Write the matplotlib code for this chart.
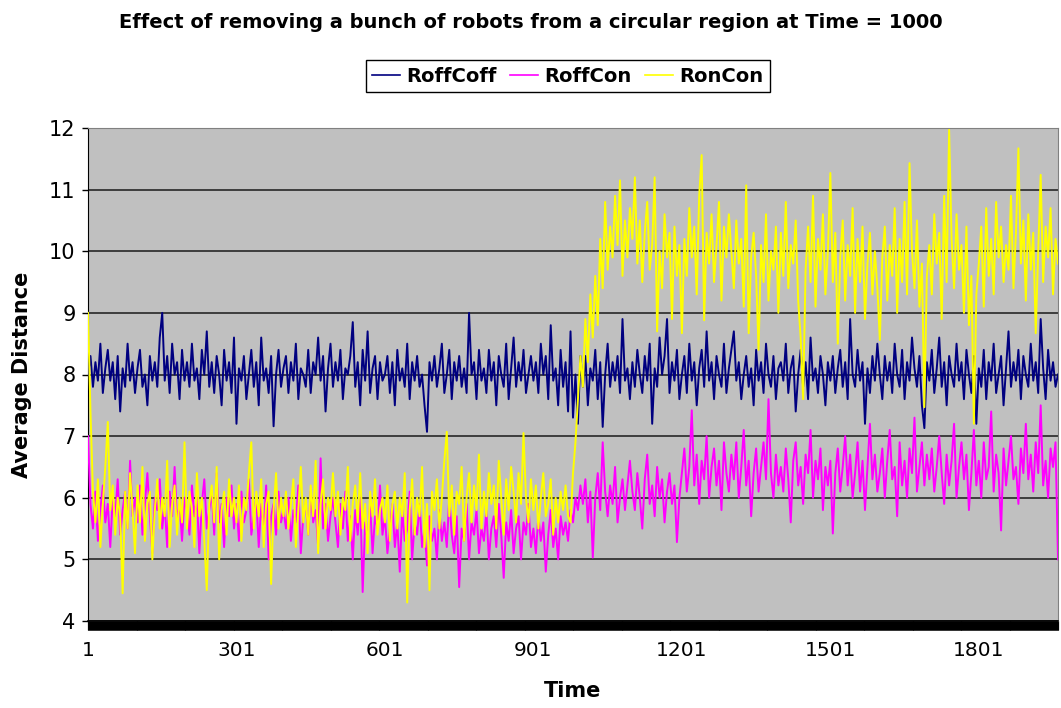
import numpy as np
import matplotlib
matplotlib.use("Agg")
import matplotlib.pyplot as plt

plt.rcParams['font.family'] = ['DejaVu Sans']

# Sampled every 5 time steps, starting at Time = 1
time_start = 1
time_step = 5

roff_coff = [
    8.0, 8.3, 7.8, 8.2, 7.9, 8.5, 7.7, 8.1, 8.4, 7.9, 8.2, 7.6, 8.3, 7.4, 8.1, 7.8, 8.5, 7.9, 8.2, 7.7,
    8.1, 8.4, 7.8, 8.0, 7.5, 8.3, 7.9, 8.2, 7.8, 8.6, 9.0, 7.9, 8.3, 7.7, 8.5, 8.0, 8.2, 7.6, 8.4, 7.9,
    8.2, 7.8, 8.5, 7.9, 8.1, 7.6, 8.4, 8.0, 8.7, 7.8, 8.2, 7.7, 8.3, 8.0, 7.5, 8.4, 7.9, 8.2, 7.7, 8.6,
    7.2, 8.1, 7.9, 8.3, 7.6, 8.0, 8.4, 7.8, 8.2, 7.5, 8.6, 7.9, 8.1, 7.7, 8.3, 7.16, 8.0, 8.4, 7.8, 8.1,
    8.3, 7.7, 8.2, 7.9, 8.5, 7.6, 8.1, 8.0, 7.8, 8.4, 7.7, 8.2, 8.0, 8.6, 7.9, 8.3, 7.4, 8.1, 8.5, 7.8,
    8.2, 7.9, 8.4, 7.6, 8.1, 8.0, 8.3, 8.85, 7.8, 8.2, 7.5, 8.4, 7.9, 8.7, 7.7, 8.1, 8.3, 7.6, 8.2, 7.9,
    8.0, 8.3, 7.7, 8.2, 7.5, 8.4, 7.9, 8.1, 7.8, 8.5, 7.6, 8.2, 7.9, 8.3, 7.8, 8.0, 7.5, 7.07, 8.2, 7.9,
    8.3, 7.8, 8.1, 8.5, 7.7, 8.0, 8.4, 7.6, 8.2, 7.9, 8.3, 7.8, 8.1, 7.7, 9.0, 8.0, 8.2, 7.6, 8.4, 7.9,
    8.1, 7.7, 8.4, 7.9, 8.2, 7.5, 8.3, 8.0, 7.8, 8.5, 7.6, 8.1, 8.6, 7.8, 8.2, 7.9, 8.4, 7.7, 8.0, 8.3,
    7.9, 8.2, 7.7, 8.5, 8.0, 8.3, 7.6, 8.8, 7.9, 8.1, 7.5, 8.4, 7.8, 8.2, 7.4, 8.7, 7.3, 8.0, 7.2, 8.3,
    7.8, 8.3, 7.5, 8.1, 7.9, 8.4, 7.6, 8.2, 7.15, 8.0, 8.5, 7.8, 8.2, 7.9, 8.3, 7.7, 8.9, 7.9, 8.1, 7.6,
    8.2, 7.8, 8.4, 8.0, 7.7, 8.3, 7.9, 8.5, 7.2, 8.1, 7.8, 8.6, 8.0, 8.3, 8.9, 7.7, 8.2, 7.9, 8.4, 7.6,
    8.0, 8.3, 7.7, 8.5, 7.9, 8.2, 7.5, 8.1, 8.4, 7.8, 8.7, 7.9, 8.2, 7.6, 8.3, 8.0, 7.8, 8.5, 7.7, 8.1,
    8.4, 8.7, 7.9, 8.2, 7.6, 8.0, 8.3, 7.8, 8.1, 7.5, 8.4, 7.9, 8.2, 7.7, 8.5, 8.0, 7.8, 8.3, 7.6, 8.1,
    8.2, 7.9, 8.5, 7.7, 8.1, 8.3, 7.4, 8.0, 8.4, 7.8, 8.2, 7.6, 8.6, 7.9, 8.1, 7.7, 8.3, 8.0, 7.5, 8.2,
    7.9, 8.3, 7.7, 8.1, 8.4, 7.8, 8.2, 7.6, 8.9, 8.0, 7.8, 8.4, 7.9, 8.2, 7.2, 8.1, 7.7, 8.3, 7.9, 8.5,
    8.0, 7.6, 8.3, 7.9, 8.2, 7.7, 8.5, 8.0, 7.8, 8.4, 7.6, 8.2, 7.9, 8.6, 8.1, 7.8, 8.3, 7.5, 7.13, 8.2,
    7.9, 8.4, 7.7, 8.1, 8.6, 7.8, 8.2, 7.5, 8.3, 8.0, 7.8, 8.5, 7.9, 8.2, 7.6, 8.4, 8.0, 7.7, 8.3, 7.2,
    8.1, 7.8, 8.4, 7.6, 8.2, 7.9, 8.5, 7.7, 8.0, 8.3, 7.5, 8.1, 8.7, 7.8, 8.2, 7.9, 8.4, 7.6, 8.3, 8.0,
    7.8, 8.5, 7.9, 8.2, 7.7, 8.9, 8.1, 7.6, 8.4, 7.9, 8.2, 7.8, 8.0,
]

roff_con = [
    7.0, 5.9, 5.5, 6.1, 5.3, 5.8, 6.2, 5.6, 5.9, 5.2, 6.0, 5.7, 6.3, 5.4, 5.8, 6.1, 5.5, 6.6, 5.7, 6.0,
    5.6, 6.2, 5.4, 5.9, 6.4, 5.7, 5.1, 6.0, 5.8, 6.3, 5.5, 5.9, 5.2, 6.1, 5.7, 6.5, 5.6, 5.9, 5.3, 6.0,
    5.8, 5.4, 6.2, 5.7, 6.0, 5.1, 5.9, 6.3, 5.5, 5.8, 6.1, 5.4, 6.4, 5.6, 5.9, 5.2, 6.0, 5.7, 6.2, 5.5,
    5.9, 5.3, 6.1, 5.6, 5.8, 6.3, 5.4, 5.7, 6.0, 5.2, 5.9, 5.5, 6.2, 5.0, 5.7, 5.9, 5.4, 6.1, 5.6, 5.8,
    5.5, 6.0, 5.3, 5.8, 5.6, 6.2, 5.1, 5.7, 5.9, 5.4, 6.1, 5.6, 5.8, 5.2, 6.64, 5.5, 5.9, 5.3, 5.7, 6.0,
    5.6, 5.2, 5.9, 5.5, 6.1, 5.3, 5.7, 5.0, 5.8, 5.4, 6.0, 4.47, 5.6, 5.3, 5.9, 5.1, 5.7, 5.5, 6.2, 5.4,
    5.7, 5.1, 5.5, 5.9, 5.2, 5.6, 4.8, 5.8, 5.3, 5.5, 6.1, 5.0, 5.6, 5.4, 5.9, 5.2, 5.5, 4.9, 5.7, 5.3,
    5.5, 5.0, 5.8, 5.3, 5.6, 5.2, 6.0, 5.4, 5.1, 5.7, 4.55, 5.5, 5.3, 5.9, 5.0, 5.6, 5.4, 5.8, 5.1, 5.5,
    5.3, 5.8, 5.0, 5.5, 5.7, 5.2, 5.9, 5.4, 4.7, 5.6, 5.3, 5.8, 5.1, 5.5, 5.7, 5.0, 5.6, 5.4, 5.9, 5.2,
    5.5, 5.1, 5.7, 5.3, 5.6, 4.8, 5.4, 5.8, 5.2, 5.5, 5.0, 5.7, 5.4, 5.6, 5.3, 5.8, 5.6, 6.0, 5.8, 6.2,
    5.9, 6.3, 5.6, 6.1, 5.03, 6.0, 6.4, 5.8, 6.9, 6.1, 5.7, 6.2, 5.9, 6.5, 5.6, 6.0, 6.3, 5.8, 6.2, 6.6,
    6.1, 5.8, 6.4, 6.0, 5.5, 6.3, 6.7, 5.9, 6.2, 5.7, 6.5, 6.0, 6.3, 5.6, 6.1, 6.4, 5.9, 6.2, 5.28, 6.0,
    6.4, 6.8, 6.1, 6.5, 7.42, 6.2, 6.7, 5.9, 6.6, 6.3, 7.0, 6.0, 6.5, 6.8, 6.2, 6.6, 5.8, 6.9, 6.4, 6.1,
    6.7, 6.3, 6.9, 6.0, 6.5, 7.1, 6.2, 6.6, 5.7, 6.4, 6.8, 6.1, 6.5, 6.9, 6.3, 7.6, 6.4, 6.0, 6.7, 6.2,
    6.5, 6.1, 6.8, 6.3, 5.6, 6.6, 6.9, 6.2, 6.5, 5.9, 6.7, 6.4, 7.1, 6.0, 6.6, 6.3, 6.8, 5.8, 6.5, 6.2,
    6.6, 5.42, 6.4, 6.8, 6.1, 6.5, 7.0, 6.2, 6.7, 6.0, 6.4, 6.9, 6.1, 6.6, 5.8, 6.5, 7.2, 6.3, 6.7, 6.1,
    6.4, 6.8, 6.0, 6.6, 7.1, 6.3, 6.5, 5.7, 6.9, 6.2, 6.6, 6.0, 6.8, 6.4, 7.3, 6.1, 6.5, 6.9, 6.2, 6.7,
    6.3, 6.8, 6.1, 6.5, 7.0, 6.4, 5.9, 6.7, 6.2, 6.6, 7.2, 6.0, 6.5, 6.9, 6.3, 6.7, 5.8, 6.4, 7.1, 6.2,
    6.6, 6.0, 6.9, 6.3, 6.5, 7.4, 6.1, 6.7, 6.4, 5.47, 6.8, 6.2, 6.6, 7.0, 6.3, 6.5, 5.9, 6.8, 6.4, 7.2,
    6.3, 6.7, 6.1, 6.9, 6.4, 7.5, 6.2, 6.6, 6.0, 6.8, 6.5, 6.9, 5.0,
]

ron_con = [
    9.0, 7.4, 6.1, 5.6, 6.3, 5.2, 5.9, 6.5, 7.23, 5.8, 6.2, 5.4, 6.0, 5.7, 4.45, 6.1, 5.5, 6.4, 5.8, 5.1,
    6.2, 5.6, 6.5, 5.3, 5.9, 6.1, 5.0, 5.8, 6.3, 5.5, 6.0, 5.7, 6.6, 5.2, 5.9, 6.2, 5.4, 6.0, 5.6, 6.9,
    5.5, 6.1, 5.8, 5.2, 6.4, 5.7, 6.0, 5.3, 4.5, 5.9, 6.2, 5.6, 6.5, 5.0, 5.8, 6.1, 5.4, 6.3, 5.7, 6.0,
    5.6, 6.2, 5.3, 6.0, 5.8, 6.4, 6.9, 5.5, 6.1, 5.7, 6.3, 5.2, 5.9, 6.1, 4.6, 5.8, 6.4, 5.5, 6.0, 5.7,
    6.1, 5.5, 5.9, 6.3, 5.2, 5.8, 6.5, 5.6, 6.0, 5.4, 6.2, 5.7, 6.6, 5.1, 5.9, 6.3, 5.5, 6.0, 5.8, 6.4,
    5.7, 6.1, 5.4, 6.0, 5.8, 6.5, 5.3, 5.9, 6.2, 5.6, 6.4, 5.5, 5.9, 5.1, 6.1, 5.7, 6.3, 5.4, 5.8, 6.0,
    5.6, 6.2, 5.3, 5.9, 6.1, 5.5, 6.0, 5.7, 6.4, 4.3, 5.8, 6.3, 5.4, 6.0, 5.7, 6.5, 5.2, 5.9, 4.5, 6.1,
    5.8, 6.3, 5.5, 6.0, 6.6, 7.07, 5.7, 6.2, 5.4, 6.1, 5.9, 6.5, 5.3, 6.0, 6.4, 5.6, 6.2, 5.8, 6.7, 5.5,
    6.1, 5.7, 6.4, 5.9, 6.2, 5.5, 6.6, 6.0, 5.4, 6.3, 5.8, 6.5, 6.1, 5.6, 6.4, 5.9, 7.05, 6.0, 5.6, 6.3,
    5.8, 6.2, 5.5, 6.0, 6.4, 5.7, 5.9, 6.3, 5.4, 6.0, 5.6, 6.1, 5.8, 6.2, 5.7, 5.6, 6.4, 6.9, 7.6, 8.3,
    7.8, 8.9, 8.2, 9.3, 8.6, 9.6, 8.8, 10.2, 9.4, 10.8, 9.7, 10.4, 9.9, 10.9, 10.1, 11.15, 9.6, 10.5, 9.9, 10.7,
    10.2, 11.2, 9.8, 10.5, 9.5, 10.3, 10.8, 9.7, 10.1, 11.2, 8.7, 10.0, 9.4, 10.6, 9.9, 10.3, 8.9, 10.4, 9.6, 10.1,
    8.67, 10.2, 9.6, 10.7, 9.9, 10.4, 9.3, 10.9, 11.56, 8.88, 10.3, 9.8, 10.6, 9.5, 10.1, 10.8, 9.2, 10.4, 9.9, 10.6,
    10.0, 9.4, 10.5, 9.8, 10.2, 9.1, 11.07, 8.67, 9.9, 10.3, 9.6, 8.4, 10.1, 9.5, 10.6, 9.2, 10.0, 9.7, 10.4, 9.0,
    10.3, 9.6, 10.8, 9.4, 10.1, 9.8, 10.5, 9.2, 8.6, 7.6, 9.7, 10.4, 9.5, 10.9, 9.1, 10.2, 9.7, 10.6, 9.3, 10.0,
    11.27, 9.5, 10.3, 8.5, 9.9, 10.5, 9.2, 10.1, 9.6, 10.7, 9.0, 10.2, 9.5, 10.4, 8.9, 9.8, 10.3, 9.3, 10.0, 9.4,
    8.56, 9.9, 10.4, 9.2, 10.1, 9.6, 10.7, 9.0, 10.2, 9.5, 10.8, 9.3, 11.43, 10.0, 9.4, 10.5, 9.1, 9.8, 7.47, 9.6,
    10.1, 9.3, 10.6, 9.8, 10.3, 8.9, 10.9, 9.5, 11.97, 10.2, 9.4, 10.6, 9.7, 10.1, 9.0, 10.4, 8.8, 9.6, 7.2, 9.3,
    9.8, 10.4, 9.1, 10.7, 9.6, 10.2, 9.3, 10.8, 9.9, 10.4, 9.5, 10.1, 9.7, 10.9, 9.4, 10.3, 11.67, 9.8, 10.5, 9.2,
    10.6, 9.7, 10.3, 8.67, 10.0, 11.24, 9.5, 10.4, 9.9, 10.7, 9.3, 10.2, 9.8,
]

series_names = ["RoffCoff", "RoffCon", "RonCon"]
series_colors = ["#000080", "#FF00FF", "#FFFF00"]
x_tick_values = [1, 301, 601, 901, 1201, 1501, 1801]
y_tick_values = [4, 5, 6, 7, 8, 9, 10, 11, 12]

fig = plt.figure(figsize=(10.61, 7.08), dpi=100)
ax = fig.add_axes([88 / 1061, 87 / 708, 970 / 1061, 493 / 708])
ax.set_facecolor("#C0C0C0")

for values, name, color in zip([roff_coff, roff_con, ron_con], series_names, series_colors):
    t = time_start + time_step * np.arange(len(values))
    ax.plot(t, values, color=color, lw=1.4, label=name, zorder=3)

ax.set_xlim(1, 1961)
ax.set_ylim(4, 12)
ax.set_xticks(x_tick_values)
ax.set_xticks(np.arange(1, 1962), minor=True)
ax.set_yticks(y_tick_values)
ax.tick_params(axis="x", which="both", direction="out", length=6.2, width=0.8,
               color="black", labelsize=14.5, pad=8)
ax.tick_params(axis="y", which="major", direction="out", length=4, width=1,
               color="black", labelsize=15, pad=5)
ax.yaxis.grid(True, color="#1a1a1a", lw=1.1, zorder=1)
ax.set_axisbelow(True)

ax.spines["left"].set_color("black")
ax.spines["bottom"].set_color("black")
ax.spines["bottom"].set_linewidth(1.2)
ax.spines["top"].set_color("#808080")
ax.spines["right"].set_color("#808080")

ax.set_xlabel("Time", fontsize=15, fontweight="bold", labelpad=15)
ax.set_ylabel("Average Distance", fontsize=15, fontweight="bold", labelpad=12)

fig.text(0.5, 1 - 22 / 708, "Effect of removing a bunch of robots from a circular region at Time = 1000",
         ha="center", va="center", fontsize=14, fontweight="bold")

leg = fig.legend(loc="center", bbox_to_anchor=(568 / 1061, 1 - 76 / 708), ncol=3,
                 frameon=True, fancybox=False, edgecolor="black", framealpha=1,
                 handlelength=1.4, handletextpad=0.35, columnspacing=0.7,
                 prop={"size": 14, "weight": "bold"}, borderpad=0.35)
leg.get_frame().set_linewidth(1.0)
for line in leg.get_lines():
    line.set_linewidth(1.2)

fig.savefig("out.png", dpi=100)
